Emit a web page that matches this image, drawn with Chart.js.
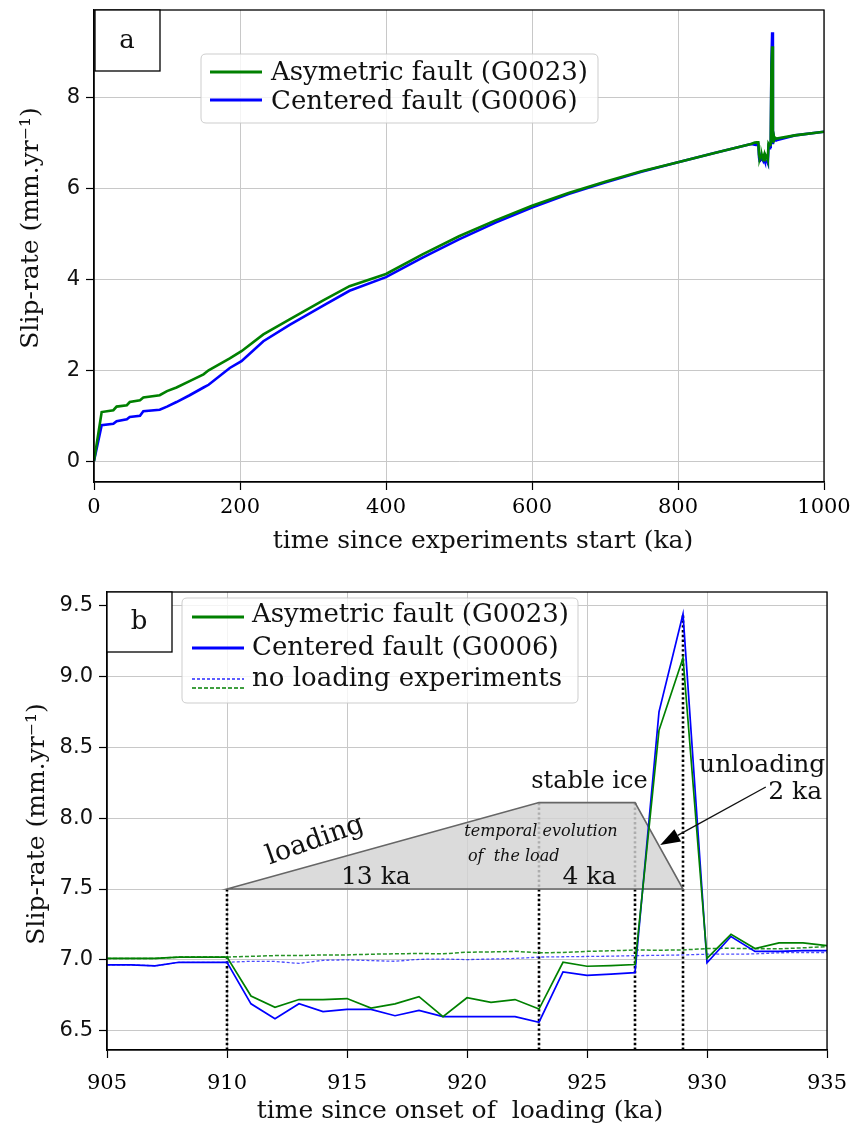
<!DOCTYPE html>
<html><head><meta charset="utf-8">
<script src="https://cdn.jsdelivr.net/npm/chart.js@4.4.1/dist/chart.umd.min.js"></script>
<style>
html,body{margin:0;padding:0;background:#fff;}
#wrap{position:relative;width:853px;height:1129px;background:#fff;}
canvas{position:absolute;left:0;}
</style></head><body>
<div id="wrap">
<canvas id="ca" width="853" height="560" style="top:0px"></canvas>
<canvas id="cb" width="853" height="564" style="top:565px"></canvas>
</div>
<script>
// ---------- Panel a data ----------
const timeEarlyA  = [0, 10.5, 26.5, 31, 45, 49, 63, 67.6, 90, 100, 113, 131, 150, 157, 186, 202, 232, 268, 314, 350, 400, 450, 500, 550, 600, 650, 700, 750, 800, 850, 900];
const greenEarlyA = [0, 1.08, 1.12, 1.20, 1.23, 1.30, 1.34, 1.40, 1.45, 1.54, 1.62, 1.76, 1.91, 2.00, 2.26, 2.42, 2.79, 3.12, 3.54, 3.85, 4.12, 4.55, 4.95, 5.30, 5.62, 5.90, 6.15, 6.38, 6.58, 6.78, 6.98];
const blueEarlyA  = [0, 0.79, 0.82, 0.88, 0.92, 0.97, 1.00, 1.10, 1.13, 1.20, 1.30, 1.45, 1.62, 1.68, 2.05, 2.20, 2.64, 3.00, 3.42, 3.75, 4.05, 4.48, 4.88, 5.25, 5.58, 5.88, 6.13, 6.37, 6.58, 6.78, 6.98];
const timeLateA   = [960, 1000];
const greenLateA  = [7.17, 7.25];
const blueLateA   = [7.17, 7.25];
const xTicksA = [0, 200, 400, 600, 800, 1000];
const yTicksA = [0, 2, 4, 6, 8];

// ---------- Panel b data ----------
const timeB = [905,906,907,908,909,910,911,912,913,914,915,916,917,918,919,920,921,922,923,924,925,926,927,928,929,930,931,932,933,934,935];
const greenB = [7.01,7.01,7.01,7.02,7.02,7.02, 6.745,6.665,6.72,6.72,6.727,6.66,6.69,6.74,6.60,6.733,6.70,6.72,6.653, 6.983,6.955,6.96,6.967, 8.62,9.13, 7.01,7.18,7.08,7.12,7.12,7.10];
const blueB  = [6.965,6.965,6.958,6.983,6.983,6.983, 6.69,6.585,6.69,6.635,6.65,6.65,6.606,6.644,6.60,6.60,6.60,6.60,6.56, 6.915,6.89,6.90,6.91, 8.75,9.44, 6.98,7.165,7.06,7.06,7.065,7.065];
const greenNoLoad = [7.01,7.01,7.01,7.02,7.02,7.02, 7.025,7.03,7.03,7.035,7.035,7.04,7.043,7.045,7.043,7.054,7.056,7.06,7.05,7.052,7.06,7.064,7.07,7.068,7.07,7.08,7.082,7.078,7.078,7.085,7.094];
const blueNoLoad  = [6.965,6.965,6.958,6.983,6.983,6.983, 6.99,6.989,6.975,6.997,7.0,6.995,6.99,7.004,7.006,7.002,7.006,7.01,7.02,7.022,7.024,7.026,7.03,7.032,7.035,7.04,7.04,7.042,7.05,7.052,7.052];
const xTicksB = [905, 910, 915, 920, 925, 930, 935];
const yTicksB = [6.5, 7.0, 7.5, 8.0, 8.5, 9.0, 9.5];
// load history (time, level) and event markers
const loadTimes  = [910, 923, 927, 929];
const loadLevels = [7.5, 8.11, 8.11, 7.5];
const eventTimes = [910, 923, 927, 929];
const eventTops  = [7.5, 8.11, 8.11, 9.44];

// ---------- helpers ----------
const SERIF = "'DejaVu Serif', serif";
const SANS = "'DejaVu Sans', sans-serif";
const GREEN = '#008000', BLUE = '#0000ff';
const pts = (xs, ys) => xs.map((x, i) => ({x, y: ys[i]}));

function fitX(h){ return s => { s.height = h; s.paddingLeft = 0; s.paddingRight = 0; s.paddingTop = 0; s.paddingBottom = 0; }; }
function fitY(w){ return s => { s.width = w; s.paddingLeft = 0; s.paddingRight = 0; s.paddingTop = 0; s.paddingBottom = 0; }; }
function scaleX(min, max, ticks, h, pad, fmt){
  return {type:'linear', min, max,
    afterBuildTicks: s => { s.ticks = ticks.map(v => ({value: v})); },
    afterFit: fitX(h),
    ticks:{font:{family:SERIF, size:21}, color:'#000', padding:pad, maxRotation:0, autoSkip:false, callback: fmt},
    grid:{color:'#c8c8c8', lineWidth:1, tickColor:'#000', tickLength:8, tickWidth:1.2},
    border:{color:'#000', width:1.3}};
}
function scaleY(min, max, ticks, w, fmt){
  return {type:'linear', min, max,
    afterBuildTicks: s => { s.ticks = ticks.map(v => ({value: v})); },
    afterFit: fitY(w),
    ticks:{font:{family:SANS, size:21}, color:'#111', padding:6, autoSkip:false, callback: fmt},
    grid:{color:'#c8c8c8', lineWidth:1, tickColor:'#000', tickLength:8, tickWidth:1.2},
    border:{color:'#000', width:1.3}};
}
function frame(ctx, a){
  ctx.save(); ctx.strokeStyle = '#000'; ctx.lineWidth = 1.3;
  ctx.strokeRect(a.left, a.top, a.right - a.left, a.bottom - a.top); ctx.restore();
}
function roundRect(ctx, x, y, w, h, r){
  ctx.beginPath(); ctx.moveTo(x + r, y); ctx.lineTo(x + w - r, y); ctx.quadraticCurveTo(x + w, y, x + w, y + r);
  ctx.lineTo(x + w, y + h - r); ctx.quadraticCurveTo(x + w, y + h, x + w - r, y + h);
  ctx.lineTo(x + r, y + h); ctx.quadraticCurveTo(x, y + h, x, y + h - r);
  ctx.lineTo(x, y + r); ctx.quadraticCurveTo(x, y, x + r, y); ctx.closePath();
}
function legendBox(ctx, x, y, w, h){
  ctx.save(); roundRect(ctx, x, y, w, h, 5);
  ctx.fillStyle = 'rgba(255,255,255,0.8)'; ctx.fill();
  ctx.strokeStyle = 'rgba(200,200,200,0.9)'; ctx.lineWidth = 1; ctx.stroke(); ctx.restore();
}
function legLine(ctx, x0, x1, y, color, width, dash){
  ctx.save(); ctx.strokeStyle = color; ctx.lineWidth = width; ctx.setLineDash(dash || []);
  ctx.beginPath(); ctx.moveTo(x0, y); ctx.lineTo(x1, y); ctx.stroke(); ctx.restore();
}
function text(ctx, s, x, y, font, align, base, rot){
  ctx.save(); ctx.font = font; ctx.fillStyle = '#111'; ctx.textAlign = align || 'left'; ctx.textBaseline = base || 'alphabetic';
  ctx.translate(x, y); if (rot) ctx.rotate(rot); ctx.fillText(s, 0, 0); ctx.restore();
}
function labelBox(ctx, x, y, w, h, s, bx, by){
  ctx.save(); ctx.fillStyle = '#fff'; ctx.fillRect(x, y, w, h);
  ctx.strokeStyle = '#000'; ctx.lineWidth = 1.3; ctx.strokeRect(x, y, w, h); ctx.restore();
  text(ctx, s, bx, by, '26px ' + SERIF, 'center');
}

Chart.defaults.font.family = SANS;
Chart.defaults.animation = false;

// ---------- Chart a ----------
const timeA  = [...timeEarlyA, ...timeB, ...timeLateA];
const greenA = [...greenEarlyA, ...greenB, ...greenLateA];
const blueA  = [...blueEarlyA, ...blueB, ...blueLateA];

const decoA = {
  id: 'decoA',
  afterDatasetsDraw(chart){
    const ctx = chart.ctx, a = chart.chartArea;
    frame(ctx, a);
    labelBox(ctx, 95, 10, 65, 61, 'a', 127, 48);
    legendBox(ctx, 201, 54, 397, 69);
    legLine(ctx, 210, 262, 72, GREEN, 3);
    legLine(ctx, 210, 262, 100, BLUE, 3);
    text(ctx, 'Asymetric fault (G0023)', 271, 80, '26px ' + SERIF);
    text(ctx, 'Centered fault (G0006)', 271, 109, '26px ' + SERIF);
    text(ctx, 'Slip-rate (mm.yr\u207B\u00B9)', 31, 228, '25px ' + SERIF, 'center', 'middle', -Math.PI / 2);
    text(ctx, 'time since experiments start (ka)', 483, 541, '25px ' + SERIF, 'center', 'middle');
  }
};

new Chart(document.getElementById('ca'), {
  type: 'line',
  data: { datasets: [
    {label:'Asymetric fault (G0023)', data: pts(timeA, greenA), borderColor: GREEN, borderWidth: 2.6, pointRadius: 0, tension: 0, order: 1},
    {label:'Centered fault (G0006)', data: pts(timeA, blueA), borderColor: BLUE, borderWidth: 2.6, pointRadius: 0, tension: 0, order: 2}
  ]},
  options: {
    responsive: false, animation: false, parsing: true,
    layout: {padding: {left: 0, top: 10, right: 29, bottom: 0}},
    plugins: {legend: {display: false}, tooltip: {enabled: false}},
    scales: {
      x: scaleX(0, 1000, xTicksA, 78, 5, v => String(v)),
      y: scaleY(-0.46, 9.93, yTicksA, 94, v => String(v))
    }
  },
  plugins: [decoA]
});

// ---------- Chart b ----------
const decoB = {
  id: 'decoB',
  beforeDatasetsDraw(chart){
    const ctx = chart.ctx, a = chart.chartArea, xs = chart.scales.x, ys = chart.scales.y;
    ctx.save();
    ctx.beginPath(); ctx.rect(a.left, a.top, a.right - a.left, a.bottom - a.top); ctx.clip();
    // event dotted lines
    ctx.strokeStyle = '#000'; ctx.lineWidth = 2.6; ctx.setLineDash([2.4, 2.4]);
    eventTimes.forEach((t, i) => {
      const px = xs.getPixelForValue(t);
      ctx.beginPath(); ctx.moveTo(px, a.bottom); ctx.lineTo(px, ys.getPixelForValue(eventTops[i])); ctx.stroke();
    });
    ctx.setLineDash([]);
    // load polygon
    ctx.beginPath();
    loadTimes.forEach((t, i) => {
      const px = xs.getPixelForValue(t), py = ys.getPixelForValue(loadLevels[i]);
      if (i === 0) ctx.moveTo(px, py); else ctx.lineTo(px, py);
    });
    ctx.closePath();
    ctx.fillStyle = 'rgba(211,211,211,0.82)'; ctx.fill();
    ctx.strokeStyle = '#666'; ctx.lineWidth = 1.6; ctx.stroke();
    ctx.restore();
  },
  afterDatasetsDraw(chart){
    const ctx = chart.ctx, a = chart.chartArea, xs = chart.scales.x, ys = chart.scales.y;
    const X = v => xs.getPixelForValue(v), Y = v => ys.getPixelForValue(v);
    // annotation texts (data coordinates)
    text(ctx, 'loading', X(913.67), Y(7.84), '27px ' + SERIF, 'center', 'middle', -0.34);
    text(ctx, '13 ka', X(916.2), Y(7.58), '25px ' + SERIF, 'center', 'middle');
    text(ctx, 'temporal evolution', X(923.08), Y(7.90), 'italic 16px ' + SERIF, 'center', 'middle');
    text(ctx, 'of  the load', X(920.04), Y(7.73), 'italic 16px ' + SERIF, 'left', 'middle');
    text(ctx, '4 ka', X(925.1), Y(7.58), '25px ' + SERIF, 'center', 'middle');
    text(ctx, 'stable ice', X(925.1), Y(8.26), '24px ' + SERIF, 'center', 'middle');
    text(ctx, 'unloading', X(932.3), Y(8.375), '25px ' + SERIF, 'center', 'middle');
    text(ctx, '2 ka', X(933.67), Y(8.18), '25px ' + SERIF, 'center', 'middle');
    // arrow
    const x0 = X(932.45), y0 = Y(8.22), x1 = X(928.05), y1 = Y(7.81);
    const ang = Math.atan2(y1 - y0, x1 - x0), L = 20, W = 7;
    const bx = x1 - L * Math.cos(ang), by = y1 - L * Math.sin(ang);
    ctx.save(); ctx.strokeStyle = '#111'; ctx.fillStyle = '#000'; ctx.lineWidth = 1.4;
    ctx.beginPath(); ctx.moveTo(x0, y0); ctx.lineTo(bx, by); ctx.stroke();
    ctx.beginPath(); ctx.moveTo(x1, y1);
    ctx.lineTo(bx + W * Math.sin(ang), by - W * Math.cos(ang));
    ctx.lineTo(bx - W * Math.sin(ang), by + W * Math.cos(ang)); ctx.closePath(); ctx.fill();
    ctx.restore();
    frame(ctx, a);
    labelBox(ctx, 107, 27, 65, 60, 'b', 139, 64);
    legendBox(ctx, 182, 33, 396, 105);
    legLine(ctx, 192, 244, 52, GREEN, 3.2);
    legLine(ctx, 192, 244, 83, BLUE, 3.2);
    legLine(ctx, 192, 244, 114, 'rgba(0,0,255,0.85)', 1.3, [3, 2]);
    legLine(ctx, 192, 244, 123, GREEN, 1.6, [4, 2]);
    text(ctx, 'Asymetric fault (G0023)', 252, 57, '26px ' + SERIF);
    text(ctx, 'Centered fault (G0006)', 252, 90, '26px ' + SERIF);
    text(ctx, 'no loading experiments', 252, 121, '26px ' + SERIF);
    text(ctx, 'Slip-rate (mm.yr\u207B\u00B9)', 37, 259, '25px ' + SERIF, 'center', 'middle', -Math.PI / 2);
    text(ctx, 'time since onset of  loading (ka)', 460, 546, '25px ' + SERIF, 'center', 'middle');
  }
};

new Chart(document.getElementById('cb'), {
  type: 'line',
  data: { datasets: [
    {label:'Asymetric fault (G0023)', data: pts(timeB, greenB), borderColor: GREEN, borderWidth: 1.7, pointRadius: 0, tension: 0, order: 1},
    {label:'Centered fault (G0006)', data: pts(timeB, blueB), borderColor: BLUE, borderWidth: 1.7, pointRadius: 0, tension: 0, order: 2},
    {label:'no loading experiments (G0023)', data: pts(timeB, greenNoLoad), borderColor: 'rgba(0,128,0,0.85)', borderWidth: 1.5, borderDash: [4, 2], pointRadius: 0, tension: 0, order: 3},
    {label:'no loading experiments (G0006)', data: pts(timeB, blueNoLoad), borderColor: 'rgba(0,0,255,0.7)', borderWidth: 1.3, borderDash: [3, 2], pointRadius: 0, tension: 0, order: 4}
  ]},
  options: {
    responsive: false, animation: false,
    layout: {padding: {left: 0, top: 27, right: 26, bottom: 0}},
    plugins: {legend: {display: false}, tooltip: {enabled: false}},
    scales: {
      x: scaleX(905, 935, xTicksB, 79, 13, v => String(v)),
      y: scaleY(6.364, 9.596, yTicksB, 107, v => v.toFixed(1))
    }
  },
  plugins: [decoB]
});
</script>
</body></html>
